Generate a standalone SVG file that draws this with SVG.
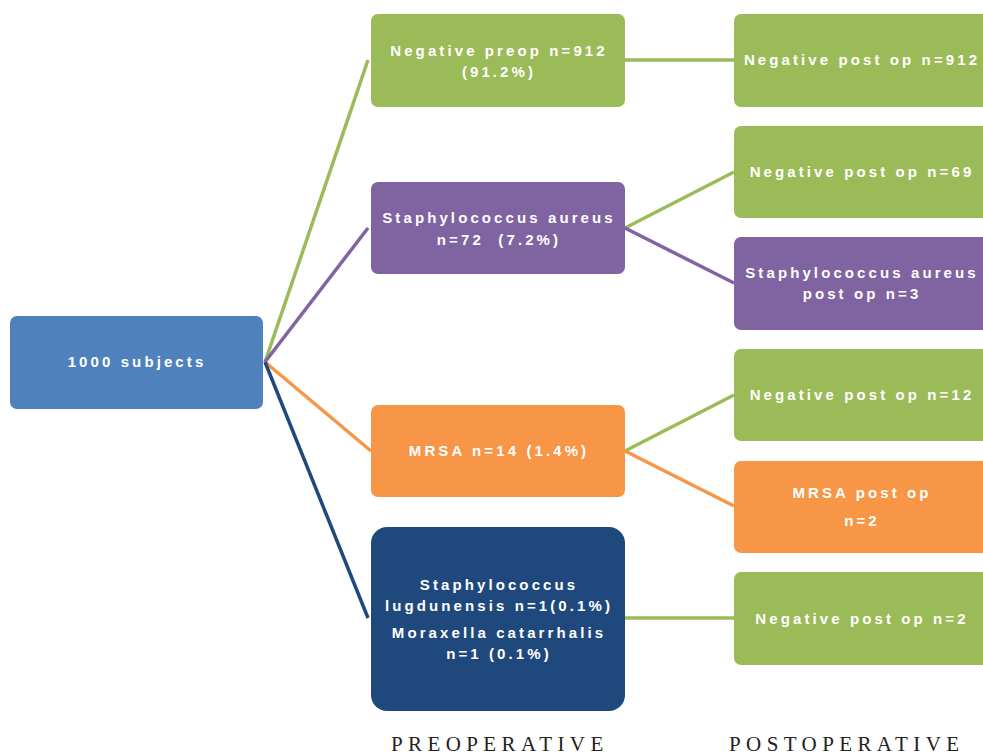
<svg xmlns="http://www.w3.org/2000/svg" width="983" height="756" viewBox="0 0 983 756">
<style>
.box{stroke:none}
.t{font-family:"Liberation Sans",Arial,sans-serif;font-weight:bold;font-size:15px;fill:#fff;text-anchor:middle;letter-spacing:3.1px;white-space:pre}
.lbl{font-family:"Liberation Serif","Times New Roman",serif;font-size:21px;fill:#222;letter-spacing:5.4px}
.c{fill:none;stroke-width:3.5}
</style>
<rect width="983" height="756" fill="#fff"/>
<g id="connectors">
<line class="c" x1="265" y1="362" x2="368" y2="60" stroke="#9BBB59"/>
<line class="c" x1="265" y1="362" x2="368" y2="228" stroke="#8064A2"/>
<line class="c" x1="265" y1="362" x2="371" y2="451" stroke="#F79646"/>
<line class="c" x1="265" y1="362" x2="368" y2="618" stroke="#1F497D"/>
<line class="c" x1="625" y1="60" x2="734" y2="60" stroke="#9BBB59"/>
<line class="c" x1="625" y1="228" x2="734" y2="172" stroke="#9BBB59"/>
<line class="c" x1="625" y1="228" x2="734" y2="283" stroke="#8064A2"/>
<line class="c" x1="625" y1="451" x2="734" y2="395" stroke="#9BBB59"/>
<line class="c" x1="625" y1="451" x2="734" y2="506" stroke="#F79646"/>
<line class="c" x1="625" y1="618" x2="734" y2="618" stroke="#9BBB59"/>
</g>
<g id="root">
<rect class="box" x="10" y="316" width="253" height="93" rx="7" fill="#4F81BD"/>
<text class="t" x="137" y="367">1000 subjects</text>
</g>
<g id="neg-preop">
<rect class="box" x="371" y="14" width="254" height="93" rx="7" fill="#9BBB59"/>
<text class="t" x="499" y="56">Negative preop n=912</text>
<text class="t" x="499" y="77">(91.2%)</text>
</g>
<g id="sa-preop">
<rect class="box" x="371" y="182" width="254" height="92" rx="7" fill="#8064A2"/>
<text class="t" x="499" y="223">Staphylococcus aureus</text>
<text class="t" x="499" y="245">n=72  (7.2%)</text>
</g>
<g id="mrsa-preop">
<rect class="box" x="371" y="405" width="254" height="92" rx="7" fill="#F79646"/>
<text class="t" x="499" y="456">MRSA n=14 (1.4%)</text>
</g>
<g id="other-preop">
<rect class="box" x="371" y="527" width="254" height="184" rx="16" fill="#1F497D"/>
<text class="t" x="499" y="590">Staphylococcus</text>
<text class="t" x="499" y="611">lugdunensis n=1(0.1%)</text>
<text class="t" x="499" y="638">Moraxella catarrhalis</text>
<text class="t" x="499" y="659">n=1 (0.1%)</text>
</g>
<g id="neg-post-912">
<rect class="box" x="734" y="14" width="256" height="93" rx="7" fill="#9BBB59"/>
<text class="t" x="862" y="65">Negative post op n=912</text>
</g>
<g id="neg-post-69">
<rect class="box" x="734" y="126" width="256" height="92" rx="7" fill="#9BBB59"/>
<text class="t" x="862" y="177">Negative post op n=69</text>
</g>
<g id="sa-post">
<rect class="box" x="734" y="237" width="256" height="93" rx="7" fill="#8064A2"/>
<text class="t" x="862" y="278">Staphylococcus aureus</text>
<text class="t" x="862" y="299">post op n=3</text>
</g>
<g id="neg-post-12">
<rect class="box" x="734" y="349" width="256" height="92" rx="7" fill="#9BBB59"/>
<text class="t" x="862" y="400">Negative post op n=12</text>
</g>
<g id="mrsa-post">
<rect class="box" x="734" y="461" width="256" height="92" rx="7" fill="#F79646"/>
<text class="t" x="862" y="498">MRSA post op</text>
<text class="t" x="862" y="526">n=2</text>
</g>
<g id="neg-post-2">
<rect class="box" x="734" y="572" width="256" height="93" rx="7" fill="#9BBB59"/>
<text class="t" x="862" y="624">Negative post op n=2</text>
</g>
<text class="lbl" x="391" y="751">PREOPERATIVE</text>
<text class="lbl" x="729" y="751">POSTOPERATIVE</text>
</svg>
